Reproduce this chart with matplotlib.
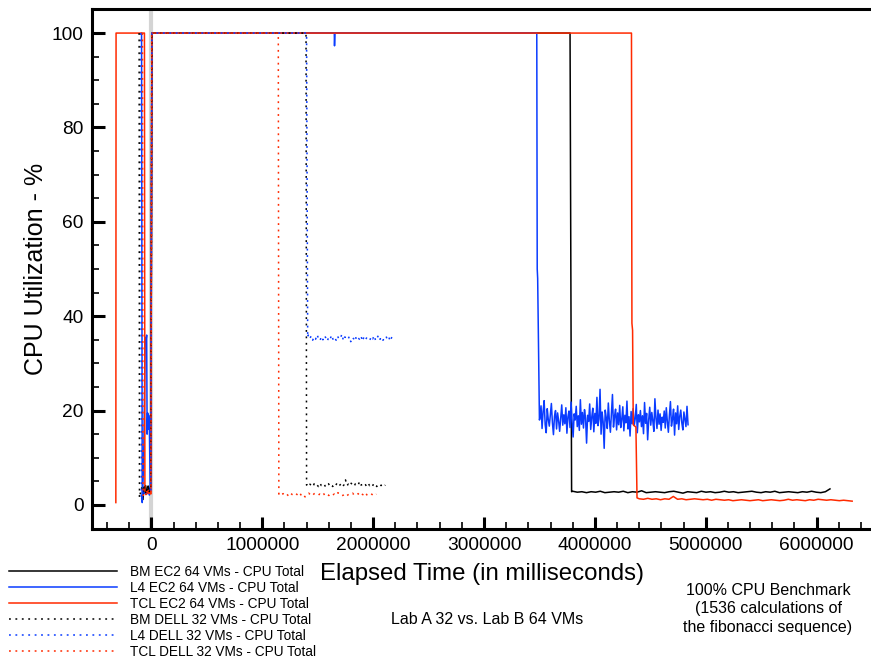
import numpy as np
import matplotlib
matplotlib.use("Agg")
import matplotlib.pyplot as plt
from matplotlib.ticker import MultipleLocator

plt.rcParams['font.family'] = ['Liberation Sans', 'DejaVu Sans']

labels = ["BM EC2 64 VMs - CPU Total", "L4 EC2 64 VMs - CPU Total", "TCL EC2 64 VMs - CPU Total",
          "BM DELL 32 VMs - CPU Total", "L4 DELL 32 VMs - CPU Total", "TCL DELL 32 VMs - CPU Total"]
colors = ["#000000", "#0a3cff", "#ff2a00", "#000000", "#0a3cff", "#ff2a00"]

# ---- BM EC2 (black solid) ----
bm_ec2_pre_t = [-75000, -5000]
bm_ec2_pre = [1.2, 3.5, 2.8, 4.1, 3.0, 2.6, 3.9, 3.3, 2.9, 4.2]
bm_ec2_main_t = [5000, 3776000, 3790000]
bm_ec2_main = [100, 100, 2.8]
bm_ec2_tail_t = [3800000, 6120000]
bm_ec2_tail = [2.9, 2.7, 2.8, 2.6, 2.8, 2.7, 2.9, 2.6, 2.7, 2.8, 2.7, 2.9, 2.6, 2.8, 2.7, 3.0, 2.6, 2.7, 2.8,
               2.7, 2.6, 2.8, 2.9, 2.7, 2.5, 2.8, 2.7, 2.6, 2.9, 2.7, 2.8, 2.6, 2.7, 2.9, 2.7, 2.8, 2.6, 2.7,
               2.8, 2.9, 2.7, 2.6, 2.8, 2.7, 2.9, 2.6, 2.7, 2.8, 2.7, 2.6, 2.8, 2.7, 2.9, 2.7, 2.6, 2.8, 3.4]

# ---- L4 EC2 (blue solid) ----
l4_ec2_main_t = [-88000, -82000, -70000, -55000, -48000, -42000, -38000, -33000, -28000, -24000, -18000,
                 -10000, -5000, 5000, 1650000, 1652000, 1656000, 3476000, 3480000, 3484000, 3500000]
l4_ec2_main = [100, 0.5, 8, 35.5, 34.8, 36, 15, 19.5, 16, 19, 17.5, 3, 3, 100, 100, 97.3, 100, 100, 50, 48, 18]
l4_ec2_tail_t = [3505000, 4840000]
l4_ec2_tail = [18.5, 21.0, 16.2, 19.8, 22.1, 17.0, 15.3, 20.4, 18.1, 16.7, 19.2, 21.5, 17.4, 14.9, 18.8, 20.0,
               16.1, 19.5, 17.8, 15.6, 18.3, 21.2, 16.9, 19.1, 17.2, 20.6, 15.2, 18.7, 19.9, 16.4, 21.8, 17.5,
               14.4, 19.3, 18.0, 20.9, 16.6, 18.9, 15.8, 22.3, 17.1, 19.6, 16.3, 20.2, 18.4, 13.1, 19.0, 17.7,
               21.4, 16.0, 18.6, 20.5, 15.5, 19.4, 17.3, 22.8, 16.8, 18.2, 24.5, 15.0, 19.7, 17.6, 12.0, 20.1,
               18.5, 16.2, 21.6, 17.9, 15.4, 19.2, 23.4, 16.5, 18.8, 20.3, 15.9, 19.5, 17.0, 21.1, 16.4, 18.1,
               20.8, 15.7, 19.0, 17.4, 22.0, 16.1, 18.7, 14.6, 19.8, 17.2, 20.4, 16.8, 18.3, 21.3, 15.3, 19.1,
               17.6, 20.0, 16.6, 18.9, 15.1, 21.7, 17.3, 19.4, 13.8, 18.0, 20.7, 16.9, 19.6, 17.8, 15.6, 22.5,
               18.4, 16.2, 20.1, 17.1, 19.3, 15.8, 18.6, 17.5, 19.9, 16.3, 20.6, 17.7, 15.4, 19.0, 21.9, 16.7,
               18.2, 20.3, 14.8, 19.5, 17.2, 21.0, 16.0, 18.8, 20.1, 17.4, 15.9, 19.7, 18.1, 16.6, 20.9, 17.0]

# ---- TCL EC2 (red solid) ----
tcl_ec2_pre_t = [-320000, -318000, -62000]
tcl_ec2_pre = [0.5, 100, 100]
tcl_ec2_mid_t = [-58000, -5000]
tcl_ec2_mid = [3.0, 2.2, 2.8, 2.4, 3.1, 2.5, 2.9, 2.3]
tcl_ec2_main_t = [5000, 4330000, 4334000, 4340000, 4346000, 4370000, 4380000]
tcl_ec2_main = [100, 100, 38.5, 37, 17, 16.5, 1.5]
tcl_ec2_tail_t = [4400000, 6320000]
tcl_ec2_tail = [1.3, 1.2, 1.4, 1.2, 1.3, 1.1, 1.3, 1.2, 1.8, 1.2, 1.3, 1.1, 1.2, 1.3, 1.2, 1.1, 1.2, 1.0, 1.2,
                1.1, 1.0, 1.1, 0.9, 1.0, 1.1, 1.0, 0.9, 1.0, 1.1, 0.9, 1.0, 1.1, 1.0, 0.9, 1.0, 1.2, 1.0, 1.1,
                1.0, 0.9, 1.1, 1.0, 1.2, 1.1, 1.0, 1.1, 1.0, 0.9, 1.0, 0.9, 0.8]

# ---- BM DELL (black dotted) ----
bm_dell_pre_t = [-110000, -107000]
bm_dell_pre = [100, 1.5]
bm_dell_mid_t = [-100000, -5000]
bm_dell_mid = [2.4, 3.6, 2.9, 3.8, 2.6, 3.3, 4.0, 2.8, 3.5]
bm_dell_main_t = [5000, 1395000, 1400000]
bm_dell_main = [100, 100, 4.2]
bm_dell_tail_t = [1405000, 2110000]
bm_dell_tail = [4.3, 3.9, 4.4, 4.1, 3.8, 4.5, 4.0, 4.2, 3.9, 4.6, 4.1, 4.0, 4.4, 3.8, 4.2, 4.5, 4.0, 4.3, 3.9,
                4.4, 4.1, 4.6, 4.0, 4.2, 4.5, 3.9, 4.3, 5.3, 4.1, 4.4, 4.0, 4.6, 4.2, 3.9, 4.5, 4.1, 4.3, 5.0,
                4.2, 4.4, 4.0, 4.3, 3.9, 4.5, 4.1, 4.4, 4.0, 4.6, 4.2, 3.9, 4.3, 4.5, 4.1, 4.4, 4.0, 4.2]

# ---- L4 DELL (blue dotted) ----
l4_dell_pre_t = [-95000, -90000]
l4_dell_pre = [100, 1.0]
l4_dell_mid_t = [-80000, -5000]
l4_dell_mid = [2.0, 2.6, 1.8, 2.4, 2.9, 2.1, 2.5]
l4_dell_main_t = [5000, 1400000, 1410000]
l4_dell_main = [100, 100, 35.5]
l4_dell_tail_t = [1415000, 2195000]
l4_dell_tail = [36.0, 35.2, 35.8, 34.9, 35.6, 35.1, 36.1, 35.3, 34.8, 35.7, 35.0, 35.9, 35.4, 34.7, 35.6,
                35.2, 36.0, 35.0, 35.5, 34.9, 35.8, 35.1, 35.4, 36.2, 34.8, 35.6, 35.3, 35.0, 35.7, 34.6,
                35.5, 35.2, 35.9, 34.9, 35.4, 35.1, 35.8, 34.7, 35.6, 35.0, 35.5, 35.3, 34.9, 35.7, 35.2,
                35.9, 34.8, 35.4, 36.0, 35.1, 35.6, 34.9, 35.3, 35.8, 35.0, 35.5, 34.7, 35.6, 35.2, 35.0]

# ---- TCL DELL (red dotted) ----
tcl_dell_pre_t = [-80000, -75000]
tcl_dell_pre = [100, 2.0]
tcl_dell_mid_t = [-65000, -3000]
tcl_dell_mid = [2.4, 1.9, 2.7, 2.2, 3.0, 2.5]
tcl_dell_main_t = [3000, 1145000, 1150000]
tcl_dell_main = [100, 100, 2.3]
tcl_dell_tail_t = [1155000, 2030000]
tcl_dell_tail = [2.5, 2.1, 2.4, 2.0, 2.3, 1.9, 2.5, 2.2, 2.0, 2.4, 2.1, 2.6, 2.0, 2.3, 1.7, 2.2, 2.5, 2.1,
                 1.9, 2.4, 2.2, 2.0, 2.3, 2.1, 2.5, 1.9, 2.2, 2.0, 2.4, 2.1, 2.3, 2.0, 2.6, 2.2, 1.9, 2.1,
                 2.4, 2.0, 2.3, 2.2, 2.5, 2.0, 2.2, 2.4, 1.9, 2.3, 2.1, 2.6, 2.0, 2.2, 2.4, 2.1, 1.9, 2.3]


def build(*segs):
    # segs: (times, values); two-element times with longer values = evenly sampled range
    ts, vs = [], []
    for t, v in segs:
        if len(t) == 2 and len(v) > 2:
            t = np.linspace(t[0], t[1], len(v))
        ts.extend(t)
        vs.extend(v)
    return np.array(ts), np.array(vs)


series = [
    build((bm_ec2_pre_t, bm_ec2_pre), (bm_ec2_main_t, bm_ec2_main), (bm_ec2_tail_t, bm_ec2_tail)),
    build((l4_ec2_main_t, l4_ec2_main), (l4_ec2_tail_t, l4_ec2_tail)),
    build((tcl_ec2_pre_t, tcl_ec2_pre), (tcl_ec2_mid_t, tcl_ec2_mid), (tcl_ec2_main_t, tcl_ec2_main),
          (tcl_ec2_tail_t, tcl_ec2_tail)),
    build((bm_dell_pre_t, bm_dell_pre), (bm_dell_mid_t, bm_dell_mid), (bm_dell_main_t, bm_dell_main),
          (bm_dell_tail_t, bm_dell_tail)),
    build((l4_dell_pre_t, l4_dell_pre), (l4_dell_mid_t, l4_dell_mid), (l4_dell_main_t, l4_dell_main),
          (l4_dell_tail_t, l4_dell_tail)),
    build((tcl_dell_pre_t, tcl_dell_pre), (tcl_dell_mid_t, tcl_dell_mid), (tcl_dell_main_t, tcl_dell_main),
          (tcl_dell_tail_t, tcl_dell_tail)),
]

fig = plt.figure(figsize=(8.71, 6.6), dpi=100)
ax = fig.add_axes([92 / 871, 131 / 660, 779 / 871, 520 / 660])

ax.axvline(0, color="#d4d4d4", lw=3, zorder=0)

handles = []
for i, (t, v) in enumerate(series):
    ls = "-" if i < 3 else (0, (1.2, 3.0))
    h, = ax.plot(t, v, color=colors[i], lw=1.1, ls=ls, label=labels[i])
    handles.append(h)

ax.set_xlim(-535000, 6490000)
ax.set_ylim(-5.1, 105.1)
ax.xaxis.set_major_locator(MultipleLocator(1000000))
ax.xaxis.set_minor_locator(MultipleLocator(200000))
ax.yaxis.set_major_locator(MultipleLocator(20))
ax.yaxis.set_minor_locator(MultipleLocator(5))
ax.ticklabel_format(style="plain", axis="x")
ax.tick_params(which="both", direction="in", top=False, right=False, labelsize=13.8)
ax.tick_params(which="major", length=9, width=2.2, pad=6)
ax.tick_params(which="minor", length=5, width=1.2)
for s in ["left", "bottom", "top"]:
    ax.spines[s].set_linewidth(2.2)
ax.spines["right"].set_visible(False)

ax.set_xlabel("Elapsed Time (in milliseconds)", fontsize=17.3, labelpad=6)
ax.set_ylabel("CPU Utilization - %", fontsize=18, labelpad=2.5)

fig.legend(handles=handles, loc="upper left", bbox_to_anchor=(5 / 871, 1 - 561 / 660), frameon=False,
           fontsize=9.8, handlelength=7.9, handletextpad=1.0, labelspacing=0.14, borderaxespad=0,
           borderpad=0.3)

fig.text(487 / 871, 1 - 619 / 660, "Lab A 32 vs. Lab B 64 VMs", ha="center", va="center", fontsize=11.5)
fig.text(768 / 871, 1 - 609 / 660, "100% CPU Benchmark\n(1536 calculations of\nthe fibonacci sequence)",
         ha="center", va="center", fontsize=11.5, linespacing=1.3)

fig.savefig("out.png", dpi=100)
